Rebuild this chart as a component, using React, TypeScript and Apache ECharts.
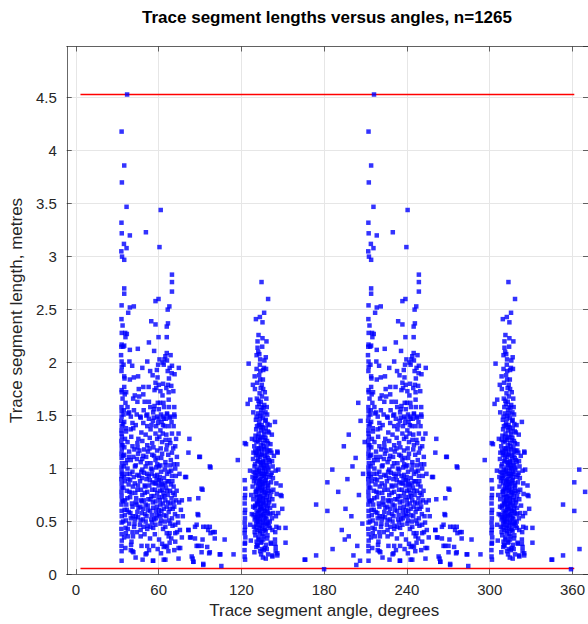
import React, { useEffect, useRef } from "react";
import * as echarts from "echarts";

// Each trace segment: [angle in degrees (axial), length in metres].
// Every segment is drawn at its angle and at angle + 180.
const TITLE = "Trace segment lengths versus angles, n=1265";
const X_NAME = "Trace segment angle, degrees";
const Y_NAME = "Trace segment length, metres";
const X_TICKS = [0, 60, 120, 180, 240, 300, 360];
const MAX_LENGTH = 4.53;
const MIN_LENGTH = 0.056;

const columnNear30: [number, number][] = [
  [30.0,4.18],[30.2,3.70],[29.9,3.32],[30.1,3.22],[29.8,3.05],[30.3,3.00],[30.0,2.54],[29.9,2.41],[30.1,2.28],[30.0,2.17],
  [29.8,2.15],[29.6,2.07],[30.0,2.01],[30.1,1.96],[29.9,1.92],[30.0,1.74],[30.1,1.72],[29.9,1.58],[30.0,1.54],[30.0,1.49],
  [29.7,1.45],[30.1,1.40],[29.9,1.36],[30.0,1.33],[30.2,1.30],[29.8,1.26],[30.0,1.22],[30.1,1.18],[29.9,1.14],[30.0,1.10],
  [30.2,1.05],[29.9,1.01],[30.0,0.97],[30.1,0.93],[29.8,0.90],[30.0,0.86],[30.1,0.82],[29.9,0.78],[30.0,0.74],[30.2,0.70],
  [29.9,0.66],[30.0,0.60],[30.1,0.55],[30.0,0.49],[29.8,0.43],[30.0,0.38],[30.1,0.32],[29.9,0.27],[30.0,0.22],[30.0,0.13],
  [31.0,1.42],[31.2,1.12],[30.6,0.95],[31.1,0.69],
];

const upperA: [number, number][] = [
  [34.0,4.53],[31.9,3.86],[33.6,3.47],[58.5,3.44],[36.0,3.20],[47.7,3.23],[31.7,3.12],[33.6,3.08],[57.6,3.09],[31.9,2.97],
  [66.7,2.83],[66.7,2.76],[66.7,2.67],[31.9,2.70],[31.9,2.65],[38.9,2.53],[36.0,2.52],[54.7,2.58],[56.9,2.60],[64.8,2.53],
  [63.6,2.50],[34.8,2.47],[51.6,2.39],[54.7,2.36],[63.8,2.37],[62.9,2.34],[30.7,2.35],[32.6,2.28],[33.8,2.27],[32.8,2.24],
  [56.9,2.24],[62.9,2.24],[49.9,2.19],[31.9,2.16],[31.2,2.15],[36.0,2.12],[41.8,2.13],[53.7,2.11],[62.9,2.09],[61.9,2.06],
  [65.7,2.07],[61.2,2.03],[57.6,2.03],[35.7,2.01],[48.7,2.01],[59.8,2.00],[63.1,2.02],
];

const middleA: [number, number][] = [
  [37.7,1.97],[45.1,1.95],[56.6,1.98],[60.7,1.98],[66.7,1.97],[71.7,1.95],[50.8,1.92],[55.7,1.93],[63.6,1.92],[68.6,1.89],
  [66.5,1.90],[31.9,1.87],[42.0,1.87],[38.9,1.86],[32.1,1.85],[36.0,1.84],[52.6,1.88],[56.2,1.86],[64.5,1.85],[49.7,1.77],
  [45.8,1.77],[42.5,1.75],[31.9,1.77],[54.7,1.81],[57.1,1.79],[63.8,1.79],[66.2,1.78],[62.6,1.76],[55.2,1.76],[33.3,1.72],
  [39.6,1.69],[45.8,1.70],[54.0,1.74],[58.3,1.73],[64.3,1.72],[67.7,1.73],[59.8,1.69],[30.7,1.66],[38.4,1.66],[41.5,1.63],
  [46.8,1.63],[49.9,1.63],[54.0,1.59],[56.4,1.62],[60.5,1.62],[64.3,1.65],[68.4,1.58],[32.8,1.62],[34.3,1.58],[53.5,1.56],
  [57.1,1.56],[60.9,1.58],[64.5,1.58],[68.6,1.49],[48.7,1.51],[63.1,1.51],[35.5,1.53],[31.4,1.51],[43.6,1.49],[53.5,1.48],
  [56.9,1.47],[60.2,1.49],[65.2,1.48],
];

const lowerA: [number, number][] = [
  [34.8,1.52],[36.7,1.49],[41.0,1.51],[43.9,1.48],[48.0,1.50],[49.9,1.47],[53.0,1.53],[55.9,1.49],[58.8,1.51],[60.7,1.47],
  [63.1,1.52],[65.5,1.49],[68.4,1.51],[31.9,1.44],[37.9,1.43],[40.3,1.41],[45.8,1.43],[48.7,1.40],[51.8,1.41],[56.6,1.43],
  [60.2,1.41],[64.3,1.40],[67.9,1.40],[71.5,1.33],[33.1,1.38],[44.4,1.34],[47.5,1.32],[51.1,1.37],[54.7,1.33],[58.3,1.36],
  [62.6,1.32],[66.7,1.33],[30.7,1.22],[34.3,1.25],[37.9,1.21],[41.5,1.24],[45.1,1.26],[48.7,1.22],[52.3,1.24],[55.9,1.28],
  [59.5,1.25],[63.1,1.22],[65.5,1.24],[69.1,1.21],[31.9,1.13],[35.5,1.16],[38.6,1.11],[42.0,1.14],[45.8,1.12],[49.2,1.16],
  [52.3,1.13],[55.9,1.17],[59.5,1.14],[62.6,1.18],[66.7,1.15],[70.3,1.11],[33.1,1.05],[36.7,1.08],[40.3,1.03],[43.9,1.06],
  [47.5,1.02],[51.1,1.05],[54.7,1.08],[58.3,1.03],[61.9,1.06],[65.5,1.03],[69.1,1.00],[72.2,0.95],[34.3,1.00],[37.9,0.97],
  [41.5,0.94],[45.1,0.99],[48.7,0.95],[52.3,0.99],[55.9,0.94],[58.8,0.97],[63.1,0.95],[66.7,0.93],[32.4,0.88],[36.2,0.89],
  [39.6,0.86],[43.4,0.88],[46.8,0.84],[50.6,0.89],[54.0,0.86],[57.1,0.89],[60.2,0.84],[64.3,0.88],[67.9,0.83],[33.8,0.79],
  [37.2,0.77],[41.5,0.80],[45.1,0.75],[48.7,0.78],[52.3,0.80],[55.9,0.77],[59.5,0.80],[63.6,0.75],[67.4,0.77],[73.9,0.70],
  [32.4,0.70],[36.2,0.73],[40.3,0.68],[43.9,0.70],[47.5,0.66],[51.1,0.71],[54.7,0.69],[58.3,0.66],[61.9,0.70],[65.5,0.67],
  [69.8,0.70],[73.2,0.61],[33.8,0.61],[37.9,0.64],[41.5,0.59],[45.8,0.62],[49.2,0.61],[53.0,0.63],[57.1,0.61],[60.7,0.62],
  [64.3,0.59],[68.4,0.64],[32.4,0.56],[36.7,0.53],[40.3,0.55],[43.9,0.51],[48.2,0.55],[51.6,0.52],[55.4,0.56],[58.8,0.51],
  [62.6,0.55],[66.7,0.53],[70.8,0.55],[74.6,0.55],[35.5,0.48],[39.1,0.45],[43.4,0.47],[47.5,0.50],[51.1,0.45],[54.7,0.47],
  [58.3,0.48],[61.9,0.45],[65.5,0.48],[69.1,0.47],[33.1,0.39],[37.9,0.40],[43.9,0.42],[48.7,0.43],[53.0,0.44],[60.2,0.43],
  [65.0,0.39],[69.1,0.39],[43.9,0.36],[64.3,0.36],[69.1,0.31],[73.9,0.35],[37.2,0.31],[48.7,0.27],[53.0,0.27],[61.9,0.27],
  [65.0,0.30],[72.7,0.25],[36.7,0.23],[38.6,0.21],[47.5,0.19],[59.5,0.29],[60.7,0.26],[63.1,0.26],[53.0,0.13],[61.9,0.14],
  [68.4,0.23],[52.8,0.13],[60.7,0.14],[71.5,0.15],[37.9,0.22],[48.2,0.20],
  [56.2,1.10],[57.8,0.92],[59.1,0.85],[58.0,0.79],[56.8,0.73],[60.9,0.91],[61.5,0.99],[55.2,1.01],[54.1,0.93],[53.4,0.74],
  [52.8,0.68],[50.2,0.84],[49.5,0.71],[48.1,0.90],[46.3,0.96],[45.0,1.09],[44.1,0.80],[42.7,0.93],[41.2,1.09],[40.0,0.77],
  [39.3,1.18],[38.2,0.83],[37.0,1.30],[36.1,0.95],[35.2,0.59],[34.0,1.08],[33.4,0.66],[32.0,1.20],[31.3,0.82],[31.1,0.50],
  [32.9,0.44],[34.6,0.36],[36.9,0.28],[39.8,0.52],[42.3,0.63],[44.7,0.58],[46.0,0.45],[47.2,0.57],[50.9,0.60],[52.0,0.56],
  [53.8,0.52],[55.7,0.64],[57.4,0.57],[59.0,0.60],[60.1,0.67],[61.2,0.74],[62.4,0.82],[63.5,0.88],[64.6,0.97],[65.9,1.08],
  [66.4,0.72],[67.3,0.62],[68.9,0.57],[70.1,0.79],[71.2,0.49],[72.5,0.42],[62.0,1.27],[60.0,1.33],[58.5,1.19],[57.2,1.02],
  [55.0,0.86],[54.4,0.80],[51.9,0.95],[50.3,1.19],[48.6,1.05],[46.9,0.77],[44.8,0.69],[43.0,1.17],[40.9,0.66],[38.0,0.55],
  [35.8,0.78],[34.9,0.90],[33.2,1.35],[31.7,0.92],[57.0,0.84],[59.6,0.73],[61.0,0.56],[63.9,0.68],[65.3,0.79],[67.0,0.88],
  [68.1,1.04],[69.5,0.93],
];

const denseA: [number, number][] = [
  [38.5,1.38],[42.2,1.28],[46.5,1.18],[50.5,1.29],[53.2,1.20],[57.5,1.30],[61.4,1.40],[64.9,1.27],[67.6,1.19],[39.7,1.02],
  [44.3,0.97],[47.9,1.11],[51.4,1.00],[53.6,1.12],[56.0,1.04],[58.9,1.10],[62.1,1.03],[64.0,1.13],[66.1,0.98],[70.6,1.04],
  [35.1,0.85],[38.8,0.92],[41.9,0.84],[44.9,0.91],[47.3,0.83],[49.8,0.93],[52.5,0.87],[55.5,0.90],[58.6,0.88],[61.8,0.86],
  [63.2,0.79],[66.0,0.85],[68.7,0.75],[71.9,0.68],[34.2,0.72],[37.5,0.67],[40.6,0.72],[43.7,0.64],[46.2,0.70],[49.0,0.65],
  [51.7,0.74],[54.9,0.60],[57.9,0.70],[60.5,0.77],[62.8,0.64],[65.1,0.62],[67.8,0.68],[33.0,0.51],[36.4,0.58],[39.4,0.48],
  [42.0,0.54],[45.5,0.52],[48.9,0.46],[52.2,0.49],[55.0,0.53],[58.1,0.55],[61.6,0.50],[64.7,0.51],[67.1,0.46],[70.4,0.40],
  [34.5,0.43],[38.3,0.36],[41.1,0.40],[46.7,0.38],[50.7,0.34],[54.2,0.38],[57.3,0.33],[62.9,0.39],[66.2,0.34],[44.5,0.27],
  [50.0,0.23],[56.3,0.24],[58.7,0.20],[64.1,0.22],[40.2,0.16],[45.3,0.14],[31.8,0.35],[32.2,0.61],[31.5,1.02],[32.5,1.28],
  [31.6,1.55],[32.3,1.70],[31.4,1.98],[32.7,0.25],[33.7,0.95],[35.4,1.11],[36.6,1.37],[41.6,1.20],[52.8,1.45],[55.1,1.40],
  [59.2,1.44],[62.3,1.47],[66.4,1.44],[69.7,1.28],[50.9,1.58],[46.1,1.55],[39.0,1.55],[42.8,1.68],[60.2,1.80],[65.0,1.95],
  [58.0,1.62],
];

const sparseMiddle: [number, number][] = [
  [79.4,1.28],[78.7,1.15],[86.6,1.11],[94.3,1.02],[114.7,1.08],[76.3,0.92],[88.3,0.81],[79.4,0.71],[85.4,0.57],[78.7,0.42],
  [84.7,0.47],[89.5,0.45],[94.3,0.45],[97.9,0.40],[79.9,0.35],[83.5,0.34],[89.0,0.33],[92.4,0.26],[105.1,0.33],[88.3,0.27],
  [94.3,0.21],[101.5,0.19],[111.6,0.19],[81.8,0.15],[82.3,0.12],[89.5,0.09],[102.7,0.08],[71.5,0.25],[85.9,0.27],[93.1,0.42],
  [97.9,0.34],[96.7,0.40],[102.0,0.19],[87.1,1.11],[94.8,1.01],[77.0,0.92],[85.9,0.72],[89.0,0.80],[80.4,0.35],[84.7,0.27],
  [88.3,0.21],[93.8,0.20],[81.1,0.17],[82.3,0.12],[89.5,0.10],[91.9,0.45],[94.8,0.39],[83.5,0.45],[78.7,0.42],[85.9,0.56],
];

const columnNear120: [number, number][] = [
  [119.8,1.24],[119.7,0.89],[120.0,0.75],[119.8,0.72],[119.7,0.67],[120.0,0.61],[119.8,0.58],[119.7,0.49],[120.0,0.45],[119.8,0.42],
  [119.7,0.39],[120.0,0.30],[119.8,0.29],[119.7,0.17],[120.0,0.14],[120.7,1.23],[121.9,1.61],[122.6,1.99],[123.8,1.65],[123.6,0.98],
  [120.1,0.81],[119.9,0.53],[120.2,0.35],[119.6,0.23],
];

const clusterB: [number, number][] = [
  [132.0,2.76],[136.8,2.60],[133.9,2.47],[127.9,2.41],[130.8,2.43],[132.7,2.38],[129.8,2.26],[132.7,2.23],[135.6,2.20],[129.1,2.20],
  [129.1,2.14],[129.6,2.10],[128.4,2.07],[135.1,2.05],[131.0,2.03],[134.1,2.02],[130.8,1.98],[128.4,1.94],[135.3,1.94],[133.2,1.93],
  [127.0,1.87],[130.3,1.88],[131.0,1.84],[125.7,1.79],[132.2,1.79],[127.2,1.75],[133.2,1.75],[128.6,1.66],[131.5,1.63],[135.8,1.58],
  [132.2,1.58],[126.0,1.53],[128.4,1.49],[141.8,1.44],[135.1,1.46],[143.7,1.15],[142.3,0.98],[145.9,0.84],[146.6,0.74],[147.1,0.62],
  [149.5,0.44],[149.5,0.30],[142.3,0.26],[143.5,0.18],[139.9,0.17],[135.1,0.15],[129.1,0.27],[132.2,0.24],[138.7,0.30],[141.8,0.33],
  [144.7,0.44],[139.9,0.42],
  [129.5,1.52],[131.2,1.50],[133.0,1.48],[134.6,1.45],[130.4,1.43],[132.1,1.41],[136.3,1.42],[128.7,1.40],[135.1,1.38],[131.8,1.36],
  [133.7,1.35],[129.9,1.33],[137.4,1.34],[127.6,1.31],[132.6,1.30],[134.9,1.29],[130.8,1.27],[136.0,1.26],[128.3,1.25],[133.3,1.24],
  [138.5,1.23],[131.5,1.22],[126.7,1.21],[135.6,1.20],[129.2,1.19],[133.9,1.18],[137.1,1.17],[130.1,1.16],[132.4,1.14],[139.2,1.15],
  [127.9,1.13],[134.4,1.12],[131.0,1.11],[136.6,1.10],[125.8,1.09],[129.6,1.08],[133.1,1.07],[138.0,1.06],[135.2,1.05],[127.3,1.04],
  [131.9,1.03],[140.1,1.02],[130.5,1.01],[134.0,1.00],[128.6,0.99],[136.9,0.99],[132.8,0.98],[126.3,0.97],[139.4,0.96],[131.3,0.95],
  [135.7,0.95],[129.0,0.94],[133.6,0.93],[137.8,0.92],[127.1,0.91],[131.7,0.90],[135.0,0.89],[130.2,0.88],[138.9,0.87],[128.1,0.86],
  [133.0,0.85],[136.4,0.84],[125.5,0.83],[131.1,0.82],[134.5,0.81],[129.4,0.80],[140.6,0.80],[132.3,0.79],[127.7,0.78],[136.2,0.77],
  [130.6,0.76],[134.2,0.75],[138.3,0.74],[128.8,0.73],[132.9,0.72],[126.0,0.71],[135.5,0.70],[130.0,0.69],[137.6,0.68],[133.5,0.67],
  [129.3,0.66],[141.2,0.65],[131.6,0.64],[127.2,0.63],[135.9,0.62],[130.9,0.61],[133.8,0.60],[128.4,0.59],[137.0,0.58],[124.9,0.57],
  [131.4,0.56],[135.3,0.55],[129.7,0.54],[139.6,0.53],[127.0,0.52],[133.2,0.51],[130.3,0.50],[136.7,0.49],[128.0,0.48],[134.8,0.47],
  [131.2,0.46],[126.5,0.45],[138.1,0.44],[132.5,0.43],[129.0,0.42],[135.0,0.41],[142.0,0.40],[130.7,0.39],[127.5,0.37],[133.4,0.36],
  [136.1,0.34],[129.8,0.33],[124.2,0.32],[132.0,0.31],[138.8,0.29],[128.9,0.28],[134.3,0.25],[131.0,0.22],[126.8,0.21],[136.8,0.19],
  [133.0,0.16],
  [130.9,1.47],[132.8,1.39],[128.1,1.37],[134.1,1.32],[131.3,1.29],[129.6,1.26],[136.7,1.24],[133.5,1.21],[130.3,1.19],[127.4,1.17],
  [135.9,1.16],[132.0,1.13],[134.8,1.09],[128.9,1.07],[137.5,1.08],[131.6,1.05],[126.9,1.02],[133.8,1.01],[130.0,0.98],[135.4,0.97],
  [138.7,0.94],[132.2,0.93],[128.3,0.90],[134.7,0.88],[136.8,0.86],[130.7,0.85],[126.5,0.88],[132.6,0.83],[129.1,0.81],[137.3,0.79],
  [133.9,0.78],[131.4,0.74],[127.8,0.75],[135.8,0.73],[139.9,0.71],[130.4,0.70],[133.0,0.68],[128.6,0.67],[136.5,0.65],[132.1,0.62],
  [125.9,0.64],[134.6,0.60],[129.5,0.58],[138.4,0.57],[131.8,0.55],[127.6,0.54],[135.6,0.52],[133.3,0.49],[129.2,0.47],[137.4,0.46],
  [130.5,0.44],[134.0,0.42],[127.0,0.40],[132.7,0.38],[136.3,0.37],[129.9,0.35],[131.5,0.30],[135.2,0.28],[128.2,0.26],[133.7,0.23],
  [130.2,1.61],[133.4,1.57],[131.7,1.55],[129.0,1.58],[134.9,1.53],[127.9,1.46],[136.1,1.51],[132.3,1.68],[130.6,1.71],[128.8,1.81],
  [134.4,1.72],[131.1,1.92],[133.0,1.84],[129.8,1.64],[135.5,1.66],[132.9,1.06],[129.3,1.12],[134.2,0.95],[131.9,0.87],[136.0,1.03],
  [127.2,0.96],[130.8,0.64],[133.6,0.56],[128.5,0.51],[138.2,0.63],[140.3,0.91],[141.0,1.12],[126.1,1.15],[124.5,0.75],[123.8,0.47],
  [142.5,0.55],[143.0,0.76],[125.0,1.28],[139.5,1.32],[137.9,1.41],
  [131.5,1.39],[129.4,1.30],[134.3,1.27],[132.1,1.18],[128.5,1.15],[135.7,1.13],[130.7,1.06],[133.3,1.03],[137.0,1.01],[129.9,0.97],
  [132.5,0.95],[127.9,0.93],[135.1,0.92],[131.0,0.89],[133.9,0.86],[129.7,0.84],[136.9,0.82],[132.4,0.80],[128.2,0.79],[134.9,0.77],
  [130.5,0.73],[133.2,0.71],[137.2,0.70],[129.0,0.69],[131.9,0.67],[135.1,0.66],[127.4,0.65],[133.6,0.63],[130.1,0.60],[136.3,0.59],
  [132.8,0.57],[128.7,0.55],[134.4,0.53],[131.0,0.52],[129.6,0.50],[136.0,0.48],[132.6,0.47],[127.7,0.44],[134.7,0.43],[130.8,0.41],
  [133.1,0.33],[128.4,0.31],[131.7,0.19],[135.8,0.24],[138.0,0.50],[139.1,0.78],[140.5,0.58],[126.2,0.56],[125.4,0.92],[127.1,1.27],
  [132.7,1.52],[130.0,1.41],[134.0,1.60],[136.6,1.35],[131.4,1.76],[133.8,1.95],[130.4,2.08],[132.5,2.15],[138.4,1.17],[139.7,1.07],
];

const sparseRight: [number, number][] = [
  [143.5,1.16],[144.2,0.99],[142.8,0.86],[145.9,0.75],[144.2,0.58],[142.8,0.45],[141.8,0.29],[142.3,0.22],[143.5,0.20],[139.9,0.18],
  [171.8,0.66],[163.4,0.14],[171.8,0.18],[177.6,0.05],[183.6,0.99],[187.9,0.78],[183.8,0.24],[180.0,0.87],[180.0,0.60],[163.9,0.14],
  [190.5,0.42],[192.0,1.21],[193.2,0.62],[194.6,0.90],[195.6,1.32],[192.7,0.33],[195.6,0.36],[197.5,0.55],[198.3,1.02],[199.0,0.18],
  [200.6,1.10],[201.1,0.09],[201.8,0.27],[203.0,0.75],[204.2,1.45],[202.5,1.62],[205.5,0.48],[206.0,0.95],[207.2,1.25],[203.8,0.13],
];

const segments: [number, number][] = [
  ...columnNear30, ...upperA, ...middleA, ...lowerA, ...denseA, ...sparseMiddle,
  ...columnNear120, ...clusterB, ...sparseRight,
];

const FONT = "'Liberation Sans', Arial, Helvetica, sans-serif";
const INK = "#262626";

export default function App() {
  const ref = useRef<HTMLDivElement>(null);
  useEffect(() => {
    if (!ref.current) return;
    const chart = echarts.init(ref.current, undefined, { renderer: "svg" });
    const left = 62, top = 46.5, width = 528, height = 528;
    const xMin = -10, xMax = 370, yMax = MAX_LENGTH * 1.1;
    const pxPerDeg = width / (xMax - xMin);
    const tickLeft = left + (X_TICKS[0] - xMin) * pxPerDeg;
    const tickWidth = (X_TICKS[X_TICKS.length - 1] - X_TICKS[0]) * pxPerDeg;
    const lineStyle = { color: INK, width: 0.7 };
    const hidden = { show: false };
    chart.setOption({
      animation: false,
      title: {
        text: TITLE,
        left: left + width / 2 - 4,
        top: 4,
        textAlign: "center",
        textStyle: { fontFamily: FONT, fontSize: 17, fontWeight: "bold", color: "#000" },
      },
      grid: [
        { left, top, width, height },
        { left: tickLeft, top, width: tickWidth, height },
      ],
      xAxis: [
        { gridIndex: 0, type: "value", min: xMin, max: xMax, axisLine: { show: true, onZero: false, lineStyle }, axisTick: hidden, axisLabel: hidden, splitLine: hidden },
        { gridIndex: 0, type: "value", position: "top", min: xMin, max: xMax, axisLine: { show: true, onZero: false, lineStyle }, axisTick: hidden, axisLabel: hidden, splitLine: hidden },
        {
          gridIndex: 1, type: "value", min: X_TICKS[0], max: X_TICKS[X_TICKS.length - 1], interval: 60,
          axisLine: { show: false, onZero: false },
          axisTick: { show: true, inside: true, length: 5, lineStyle },
          axisLabel: { show: true, color: INK, fontFamily: FONT, fontSize: 15, margin: 8 },
          splitLine: { show: true, lineStyle: { color: "#e6e6e6", width: 1 } },
          name: X_NAME, nameLocation: "middle", nameGap: 27,
          nameTextStyle: { fontFamily: FONT, fontSize: 17, color: INK },
        },
        {
          gridIndex: 1, type: "value", position: "top", min: X_TICKS[0], max: X_TICKS[X_TICKS.length - 1], interval: 60,
          axisLine: { show: false, onZero: false },
          axisTick: { show: true, inside: true, length: 5, lineStyle },
          axisLabel: hidden, splitLine: hidden,
        },
      ],
      yAxis: [
        {
          gridIndex: 0, type: "value", min: 0, max: yMax, interval: 0.5,
          axisLine: { show: true, onZero: false, lineStyle },
          axisTick: { show: true, inside: true, length: 5, lineStyle },
          axisLabel: { show: true, color: INK, fontFamily: FONT, fontSize: 15, margin: 10, showMaxLabel: false },
          splitLine: { show: true, lineStyle: { color: "#e6e6e6", width: 1 } },
          name: Y_NAME, nameLocation: "middle", nameGap: 32, nameRotate: 90,
          nameTextStyle: { fontFamily: FONT, fontSize: 17, color: INK },
        },
        {
          gridIndex: 0, type: "value", position: "right", min: 0, max: yMax, interval: 0.5,
          axisLine: { show: true, onZero: false, lineStyle },
          axisTick: { show: true, inside: true, length: 5, lineStyle },
          axisLabel: hidden, splitLine: hidden,
        },
        { gridIndex: 1, type: "value", min: 0, max: yMax, show: false },
      ],
      series: [
        {
          type: "scatter", xAxisIndex: 0, yAxisIndex: 0, clip: true,
          symbol: "rect", symbolSize: 4.5,
          itemStyle: { color: "#0000ff" },
          data: [
            ...segments.map(([a, l]) => [a, l]),
            ...segments.map(([a, l]) => [a + 180, l]),
          ],
          z: 3,
        },
        ...[MAX_LENGTH, MIN_LENGTH].map((level) => ({
          type: "line", xAxisIndex: 0, yAxisIndex: 0,
          data: [[X_TICKS[0], level], [X_TICKS[X_TICKS.length - 1], level]],
          showSymbol: false, silent: true,
          lineStyle: { color: "#ff0000", width: 1.6 },
          z: 2,
        })),
      ],
    });
    return () => chart.dispose();
  }, []);
  return <div ref={ref} style={{ position: "fixed", left: 0, top: 0, width: 588, height: 624, background: "#fff" }} />;
}
